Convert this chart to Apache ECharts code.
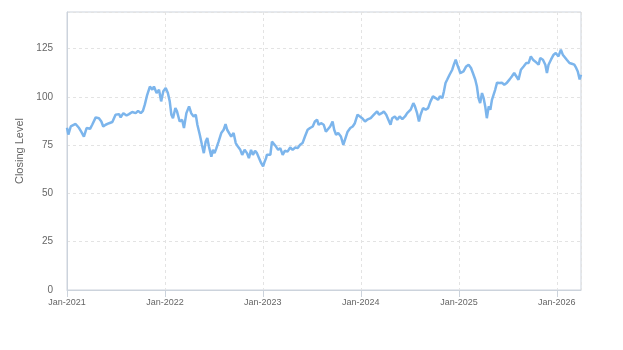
<!DOCTYPE html>
<html>
<head>
<meta charset="utf-8">
<title>Closing Level</title>
<script src="https://cdn.jsdelivr.net/npm/echarts@6/dist/echarts.min.js"></script>
<style>
  html, body { margin: 0; padding: 0; background: #ffffff; }
  #chart { width: 623px; height: 350px; }
</style>
</head>
<body>
<div id="chart"></div>
<script>
// Trading dates (sampled) and the closing level on each date
const dates = [
  '2021-01-01','2021-01-06','2021-01-15','2021-02-02','2021-02-15','2021-02-23','2021-03-05','2021-03-15',
  '2021-03-28','2021-04-05','2021-04-18','2021-04-30','2021-05-09','2021-05-16','2021-05-25','2021-06-07',
  '2021-06-19','2021-07-01','2021-07-14','2021-07-20','2021-07-30','2021-08-11','2021-08-20','2021-09-01',
  '2021-09-14','2021-09-23','2021-10-03','2021-10-11','2021-10-18','2021-10-27','2021-11-06','2021-11-15',
  '2021-11-21','2021-12-01','2021-12-10','2021-12-18','2021-12-26',
  '2022-01-04','2022-01-12','2022-01-19','2022-01-25','2022-01-31','2022-02-09','2022-02-15','2022-02-25',
  '2022-03-06','2022-03-13','2022-03-22','2022-04-01','2022-04-09','2022-04-18','2022-04-26','2022-05-02',
  '2022-05-11','2022-05-19','2022-05-26','2022-06-02','2022-06-08','2022-06-14','2022-06-23','2022-06-29',
  '2022-07-05','2022-07-11','2022-07-20','2022-07-30','2022-08-08','2022-08-15','2022-08-21','2022-08-28',
  '2022-09-05','2022-09-14','2022-09-22','2022-09-30','2022-10-09','2022-10-16','2022-10-25','2022-11-03',
  '2022-11-10','2022-11-18','2022-11-25','2022-12-03','2022-12-10','2022-12-18','2022-12-26',
  '2023-01-02','2023-01-08','2023-01-13','2023-01-16','2023-01-21','2023-01-29','2023-02-04','2023-02-10',
  '2023-02-19','2023-02-27','2023-03-07','2023-03-16','2023-03-24','2023-04-03','2023-04-13','2023-04-22',
  '2023-05-02','2023-05-11','2023-05-20','2023-05-29','2023-06-07','2023-06-17','2023-06-26','2023-07-06',
  '2023-07-14','2023-07-22','2023-07-28','2023-08-06','2023-08-16','2023-08-24','2023-08-31','2023-09-09',
  '2023-09-18','2023-09-24','2023-10-01','2023-10-09','2023-10-19','2023-10-28','2023-11-03','2023-11-13',
  '2023-11-23','2023-12-02','2023-12-10','2023-12-20','2023-12-29',
  '2024-01-06','2024-01-17','2024-01-25','2024-02-07','2024-02-19','2024-03-02','2024-03-09','2024-03-19',
  '2024-03-27','2024-04-05','2024-04-12','2024-04-21','2024-04-27','2024-05-07','2024-05-16','2024-05-25',
  '2024-06-04','2024-06-14','2024-06-22','2024-07-05','2024-07-15','2024-07-21','2024-07-29','2024-08-05',
  '2024-08-11','2024-08-20','2024-08-30','2024-09-08','2024-09-17','2024-09-26','2024-10-06','2024-10-15',
  '2024-10-22','2024-10-31','2024-11-06','2024-11-12','2024-11-18','2024-11-27','2024-12-07','2024-12-13',
  '2024-12-20','2024-12-26',
  '2025-01-02','2025-01-06','2025-01-12','2025-01-18','2025-01-28','2025-02-06','2025-02-15','2025-02-22',
  '2025-03-03','2025-03-09','2025-03-15','2025-03-21','2025-03-28','2025-04-03','2025-04-09','2025-04-15',
  '2025-04-22','2025-04-28','2025-05-04','2025-05-10','2025-05-16','2025-05-23','2025-06-02','2025-06-10',
  '2025-06-19','2025-06-29','2025-07-09','2025-07-17','2025-07-26','2025-08-02','2025-08-11','2025-08-20',
  '2025-08-30','2025-09-09','2025-09-18','2025-09-26','2025-10-04','2025-10-12','2025-10-19','2025-10-25',
  '2025-10-31','2025-11-10','2025-11-19','2025-11-25','2025-12-01','2025-12-10','2025-12-20','2025-12-28',
  '2026-01-07','2026-01-16','2026-01-23','2026-01-30','2026-02-07','2026-02-17','2026-02-26','2026-03-07',
  '2026-03-14','2026-03-20','2026-03-27','2026-04-01'
];

const closingLevels = [
  84.0, 80.5, 84.7, 86.0, 83.9, 82.0, 79.5, 83.9,
  83.5, 85.6, 89.4, 89.0, 87.3, 84.7, 85.6, 86.4,
  87.0, 90.8, 91.1, 89.4, 91.6, 90.4, 91.1, 92.2,
  91.6, 92.8, 91.6, 92.8, 96.0, 101.1, 105.4, 103.7,
  105.4, 102.0, 103.7, 97.7, 102.9,
  104.6, 102.0, 97.7, 90.8, 89.0, 94.2, 92.5, 87.3,
  88.2, 83.9, 91.6, 95.1, 91.6, 89.9, 90.8, 85.6,
  80.4, 75.2, 70.9, 76.9, 78.7, 74.3, 69.1, 72.6,
  70.9, 73.1, 76.9, 81.3, 83.0, 85.9, 83.0, 83.9,
  79.5, 81.3, 76.1, 74.3, 72.6, 70.0, 72.6, 70.9,
  68.3, 72.6, 70.0, 72.1, 70.9, 68.3, 65.7,
  64.0, 66.6, 68.3, 70.0, 70.9, 70.0, 76.9, 77.8,
  74.3, 72.6, 73.5, 70.0, 72.1, 71.7, 73.8, 72.6,
  73.8, 73.5, 75.2, 76.1, 79.5, 83.0, 83.9, 84.7,
  87.3, 88.2, 85.6, 86.4, 85.6, 82.0, 83.0, 84.7,
  87.3, 83.0, 80.4, 81.3, 79.5, 75.2, 77.8, 82.0,
  83.9, 84.7, 86.4, 90.8, 89.9,
  89.0, 87.3, 88.2, 89.0, 90.8, 92.5, 90.8, 91.6,
  92.5, 90.8, 89.9, 85.6, 89.0, 89.9, 88.2, 89.9,
  88.5, 89.9, 91.6, 93.4, 96.8, 95.1, 91.6, 87.3,
  90.8, 94.2, 93.4, 94.2, 97.7, 100.3, 99.4, 98.5,
  100.3, 99.4, 102.9, 107.2, 108.9, 111.5, 114.1, 116.7,
  119.3, 116.7,
  114.1, 112.4, 111.5, 113.2, 115.8, 116.7, 115.0, 112.4,
  108.9, 105.4, 99.4, 96.8, 102.0, 99.4, 95.1, 89.0,
  95.1, 93.4, 98.5, 99.4, 103.7, 107.4, 107.2, 107.4,
  106.3, 107.4, 109.1, 110.6, 112.4, 111.5, 108.9, 114.1,
  115.8, 117.6, 117.6, 121.0, 119.3, 118.4, 119.3, 116.7,
  120.2, 119.3, 116.7, 112.4, 116.7, 119.3, 121.9, 122.8,
  121.0, 124.5, 121.9, 122.8, 119.3, 117.6, 117.2, 116.7,
  115.0, 113.2, 109.1, 111.5
];

// Value-axis layout
const yMin = 0;
const yMax = 144;
const yStep = 25;

const seriesData = dates.map((d, i) => [d, closingLevels[i]]);

const FONT = '"Liberation Sans", Arial, Helvetica, sans-serif';
const YEAR_MS = 365 * 24 * 3600 * 1000;

const chart = echarts.init(document.getElementById('chart'), null, { renderer: 'canvas' });

chart.setOption({
  animation: false,
  backgroundColor: '#ffffff',
  grid: {
    left: 67,
    right: 42,
    top: 12,
    bottom: 60,
    show: true,
    borderColor: '#ccd3dc',
    borderWidth: 1,
    containLabel: false
  },
  xAxis: {
    type: 'time',
    min: dates[0],
    max: dates[dates.length - 1],
    minInterval: YEAR_MS,
    maxInterval: YEAR_MS * 1.01,
    axisLine: { show: true, lineStyle: { color: '#ccd3dc', width: 1 } },
    axisTick: { show: true, length: 7, lineStyle: { color: '#ccd3dc' } },
    axisLabel: {
      color: '#666666',
      fontSize: 9,
      fontFamily: FONT,
      margin: 8,
      formatter: '{MMM}-{yyyy}',
      showMinLabel: true,
      showMaxLabel: false,
      hideOverlap: false
    },
    splitLine: { show: true, lineStyle: { color: '#e3e3e3', type: [3, 3], width: 1 } }
  },
  yAxis: {
    type: 'value',
    min: yMin,
    max: yMax,
    interval: yStep,
    name: 'Closing Level',
    nameLocation: 'middle',
    nameGap: 38,
    nameRotate: 90,
    nameTextStyle: { color: '#666666', fontSize: 11, fontFamily: FONT },
    axisLine: { show: true, lineStyle: { color: '#ccd3dc', width: 1 } },
    axisTick: { show: false },
    axisLabel: {
      color: '#666666',
      fontSize: 10,
      fontFamily: FONT,
      margin: 14,
      showMaxLabel: false
    },
    splitLine: { show: true, lineStyle: { color: '#e3e3e3', type: [3, 3], width: 1 } }
  },
  series: [{
    type: 'line',
    data: seriesData,
    showSymbol: false,
    symbol: 'none',
    smooth: false,
    lineStyle: { color: '#7cb5ec', width: 2.5 },
    itemStyle: { color: '#7cb5ec' }
  }]
});
</script>
</body>
</html>
